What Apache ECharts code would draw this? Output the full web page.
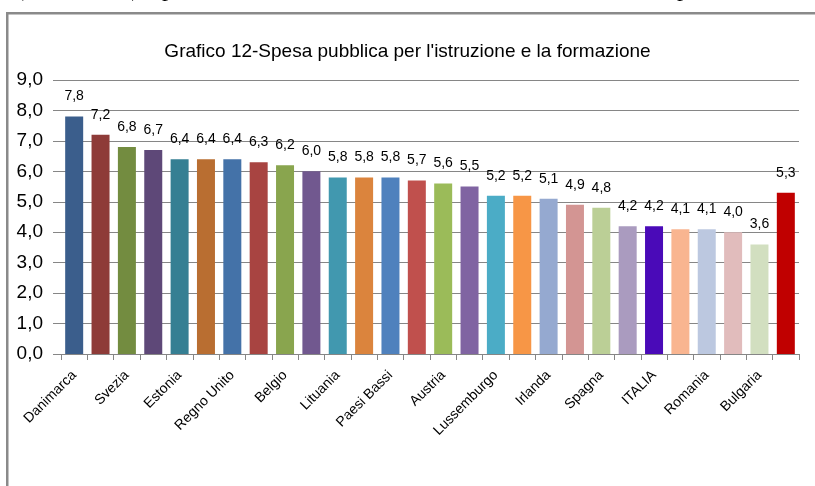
<!DOCTYPE html>
<html>
<head>
<meta charset="utf-8">
<script src="https://cdn.jsdelivr.net/npm/echarts@6/dist/echarts.min.js"></script>
<style>
html,body{margin:0;padding:0;background:#fff;}
#c{width:815px;height:486px;}
</style>
</head>
<body>
<div id="c"></div>
<script>
var categories = ['Danimarca','Cipro','Svezia','Finlandia','Estonia','Francia','Regno Unito','Slovenia','Belgio','Portogallo','Lituania','Lettonia','Paesi Bassi','Polonia','Austria','Ungheria','Lussemburgo','Malta','Irlanda','Germania','Spagna','Grecia','ITALIA','Rep. Ceca','Romania','Slovacchia','Bulgaria','UE 27'];
var values = [7.8,7.2,6.8,6.7,6.4,6.4,6.4,6.3,6.2,6.0,5.8,5.8,5.8,5.7,5.6,5.5,5.2,5.2,5.1,4.9,4.8,4.2,4.2,4.1,4.1,4.0,3.6,5.3];
var barColors = ['#3B5E8C','#8E3B38','#738C40','#5E4878','#357F93','#B96E31','#4472A8','#A84441','#89A54E','#71588F','#4198AF','#DB843D','#4F81BD','#C0504D','#9BBB59','#8064A2','#4BACC6','#F79646','#95A9D0','#D39593','#BBCF96','#AA9BBF','#4A0AB8','#F9B590','#BCC8E0','#E1BCBC','#D2DFC0','#C00000'];
var yTicks = [0,1,2,3,4,5,6,7,8,9];
var titleText = 'Grafico 12-Spesa pubblica per l\'istruzione e la formazione';
var topTextA = '(Anno 2010) e per il settore dell\'istruzione e della formazione la media';
var topTextB = 'pari al';

function fmt(v){ return Number(v).toFixed(1).replace('.', ','); }

var chart = echarts.init(document.getElementById('c'), null, {renderer:'canvas'});
chart.setOption({
  animation: false,
  backgroundColor: '#fff',
  title: {
    text: titleText,
    left: 'center',
    top: 37,
    textStyle: {fontFamily:'Liberation Sans', fontSize:19, fontWeight:'normal', color:'#000'}
  },
  graphic: [
    {type:'text', x:16, y:-10.5, style:{text: topTextA, font:'24px "Liberation Serif"', fill:'#000', verticalAlign:'middle'}, silent:true},
    {type:'text', x:677, y:-10.5, style:{text: topTextB, font:'24px "Liberation Serif"', fill:'#000', verticalAlign:'middle'}, silent:true},
    {type:'rect', shape:{x:6, y:12, width:2.5, height:480}, style:{fill:'#8a8a8a'}, silent:true},
    {type:'rect', shape:{x:6, y:12, width:815, height:2.5}, style:{fill:'#8a8a8a'}, silent:true}
  ],
  grid: {left:61, right:16, top:80, bottom:132, containLabel:false},
  xAxis: {
    type:'category',
    data: categories,
    axisLine:{show:true, lineStyle:{color:'#868686', width:1}},
    axisTick:{show:true, interval:0, length:6, lineStyle:{color:'#868686'}},
    axisLabel:{interval:1, rotate:45, fontFamily:'Liberation Sans', fontSize:14, color:'#000', margin:19}
  },
  yAxis: {
    type:'value',
    min: yTicks[0],
    max: yTicks[yTicks.length-1],
    interval: 1,
    axisLine:{show:false},
    axisTick:{show:true, length:8, lineStyle:{color:'#868686'}},
    splitLine:{show:true, lineStyle:{color:'#868686', width:1}},
    axisLabel:{formatter: fmt, fontFamily:'Liberation Sans', fontSize:19, color:'#000', margin:18}
  },
  series: [{
    type:'bar',
    barWidth: 18,
    data: values.map(function(v,i){ return {value:v, itemStyle:{color:barColors[i]}}; }),
    label:{show:true, position:'top', distance:13, formatter:function(p){return fmt(p.value);}, fontFamily:'Liberation Sans', fontSize:14, color:'#000'}
  }]
});
</script>
</body>
</html>
